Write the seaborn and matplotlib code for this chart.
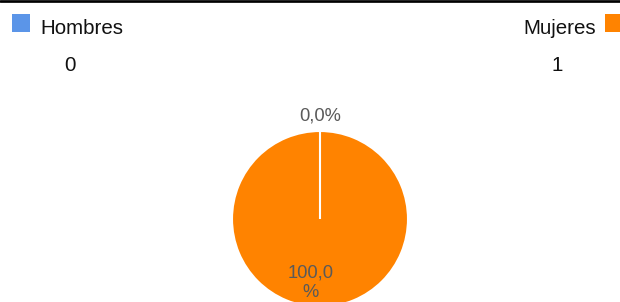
import numpy as np
import matplotlib
matplotlib.use("Agg")
import matplotlib.pyplot as plt
from matplotlib.patches import Rectangle
from matplotlib.lines import Line2D
import seaborn as sns

# ---- data ----
categories = ["Hombres", "Mujeres"]
counts = [0, 1]
hex_colors = ["#5b95e8", "#ff8300"]

sns.set_style("white")
plt.rcParams["font.family"] = ["Liberation Sans", "DejaVu Sans"]
palette = sns.color_palette(hex_colors)

W, H = 620, 302
fig = plt.figure(figsize=(W / 100, H / 100), dpi=100)

def fx(x):
    return x / W

def fy(y):
    return 1 - y / H

# top rule
fig.add_artist(Line2D([0, 1], [fy(1.3), fy(1.3)], color="black", lw=2.7 * 0.72))

# pie axes: centre (320, 219) px, radius 88 px
cx, cy, r = 320, 219, 88
ax = fig.add_axes([fx(cx - r), fy(cy + r), 2 * r / W, 2 * r / H])

wedges, _ = ax.pie(counts, colors=palette, startangle=90, counterclock=False,
                   radius=1.0, wedgeprops=dict(edgecolor="white", linewidth=1.5))
ax.set_xlim(-1, 1)
ax.set_ylim(-1, 1)
ax.set_aspect("equal")
ax.axis("off")
for w, v in zip(wedges, counts):
    w.set_clip_on(False)
    if v == 0:
        w.set_zorder(5)

total = float(sum(counts))
for w, v in zip(wedges, counts):
    p = 100.0 * v / total
    lab = f"{p:.1f}".replace(".", ",")
    txt = lab + ("\n%" if len(lab) > 4 else "%")
    mid = np.deg2rad((w.theta1 + w.theta2) / 2.0)
    if v == 0:
        d = 1.17
        ax.text(d * np.cos(mid), d * np.sin(mid), txt, ha="center", va="center",
                fontsize=13.2, color="#5a5a5a", clip_on=False)
    else:
        d = 0.72
        ax.text(d * np.cos(mid) - 0.11, d * np.sin(mid), txt, ha="center", va="center",
                fontsize=13.2, color="#5a5a5a", clip_on=False, linespacing=1.2,
                multialignment="center", zorder=6)

# legend-like headers with counts
fs = 14.8
# left: Hombres
fig.add_artist(Rectangle((fx(12), fy(31.5)), 18 / W, 18 / H, transform=fig.transFigure,
                         facecolor=palette[0], edgecolor="none"))
fig.text(fx(40.5), fy(34), categories[0], ha="left", va="baseline", fontsize=fs, color="#111111")
fig.text(fx(70), fy(71.5), str(counts[0]), ha="center", va="baseline", fontsize=fs, color="#111111")
# right: Mujeres
fig.add_artist(Rectangle((fx(605), fy(31.5)), 18 / W, 18 / H, transform=fig.transFigure,
                         facecolor=palette[1], edgecolor="none"))
fig.text(fx(596), fy(34), categories[1], ha="right", va="baseline", fontsize=fs, color="#111111")
fig.text(fx(557), fy(71.5), str(counts[1]), ha="center", va="baseline", fontsize=fs, color="#111111")

fig.savefig("out.png", dpi=100)
